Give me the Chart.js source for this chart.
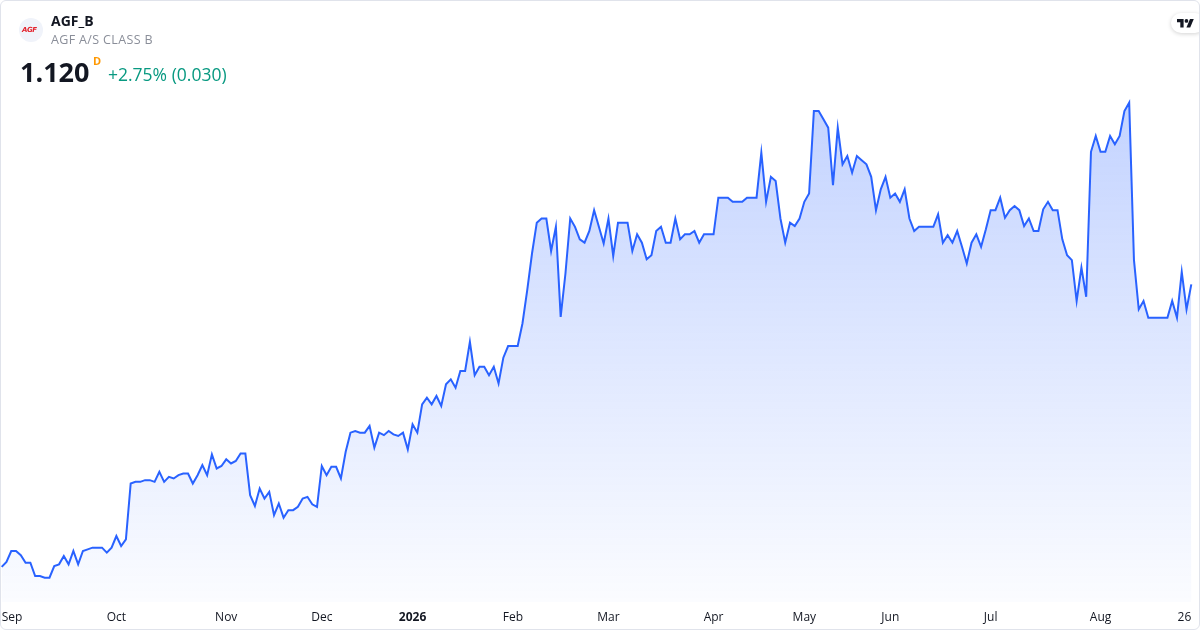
<!DOCTYPE html>
<html>
<head>
<meta charset="utf-8">
<script src="https://cdn.jsdelivr.net/npm/chart.js"></script>
<style>
  html, body { margin: 0; padding: 0; background: #fff; }
  #wrap { position: relative; width: 1200px; height: 630px; overflow: hidden; font-family: "Open Sans", sans-serif; }
  #frame { position: absolute; left: 0; top: 0; width: 1200px; height: 630px; box-sizing: border-box; border: 1px solid #e0e3eb; border-radius: 6px; pointer-events: none; }
  .abs { position: absolute; white-space: nowrap; line-height: 1; }
  #logo { position: absolute; left: 19px; top: 18px; width: 24px; height: 24px; border-radius: 50%; background: #f0f3fa; }
  #logo span { position: absolute; left: 3px; top: 8px; font: italic bold 7px "DejaVu Sans", sans-serif; color: #e3212b; letter-spacing: -0.4px; }
  #tv { position: absolute; left: 1171px; top: 13px; width: 34px; height: 20px; border-radius: 10px; background: #fff; box-shadow: 0 1px 4px rgba(0,0,0,0.18); }
</style>
</head>
<body>
<div id="wrap">
  <canvas id="myChart" width="1200" height="630"></canvas>
  <div id="logo"><span>AGF</span></div>
  <div class="abs" style="left:51px;top:14px;font-size:14px;font-weight:700;color:#131722;">AGF_B</div>
  <div class="abs" style="left:51px;top:34px;font-size:12.5px;color:#8a8e99;letter-spacing:0.35px;">AGF A/S CLASS B</div>
  <div class="abs" style="left:20px;top:58px;font-size:27px;font-weight:700;color:#131722;">1.120</div>
  <div class="abs" style="left:93px;top:55px;font-size:11px;font-weight:700;color:#ff9800;">D</div>
  <div class="abs" style="left:108px;top:66px;font-size:17.5px;color:#089981;">+2.75% (0.030)</div>
  <div id="tv">
    <svg width="17" height="8.5" viewBox="0 4 36 18" style="position:absolute;left:6px;top:6px;">
      <path d="M14 22H7V11H0V4h14v18z" fill="#131722"/>
      <circle cx="20" cy="8" r="4" fill="#131722"/>
      <path d="M28 22h-8l7.5-18h8L28 22z" fill="#131722"/>
    </svg>
  </div>
  <div id="frame"></div>
</div>
<script>
// daily closes, AGF_B, Sep 2025 - Aug 2026
var prices = [
  0.781, 0.787, 0.800, 0.800, 0.795, 0.786, 0.786, 0.770, 0.770, 0.768,
  0.768, 0.782, 0.784, 0.794, 0.784, 0.800, 0.784, 0.800, 0.802, 0.804,
  0.804, 0.804, 0.798, 0.804, 0.818, 0.806, 0.814, 0.881, 0.883, 0.883,
  0.885, 0.885, 0.883, 0.895, 0.883, 0.889, 0.887, 0.891, 0.893, 0.893,
  0.881, 0.891, 0.903, 0.891, 0.916, 0.899, 0.902, 0.910, 0.905, 0.908,
  0.917, 0.917, 0.867, 0.854, 0.875, 0.863, 0.871, 0.843, 0.857, 0.840,
  0.849, 0.849, 0.853, 0.863, 0.865, 0.856, 0.853, 0.902, 0.891, 0.901,
  0.901, 0.887, 0.919, 0.942, 0.944, 0.942, 0.942, 0.950, 0.924, 0.942,
  0.939, 0.944, 0.940, 0.938, 0.942, 0.922, 0.952, 0.942, 0.976, 0.984,
  0.976, 0.986, 0.974, 1.000, 1.006, 0.996, 1.016, 1.016, 1.051, 1.011,
  1.021, 1.021, 1.011, 1.021, 1.001, 1.032, 1.046, 1.046, 1.046, 1.073,
  1.113, 1.157, 1.194, 1.199, 1.199, 1.160, 1.189, 1.081, 1.133, 1.199,
  1.189, 1.174, 1.170, 1.184, 1.209, 1.189, 1.169, 1.199, 1.154, 1.194,
  1.194, 1.194, 1.160, 1.180, 1.170, 1.150, 1.155, 1.184, 1.189, 1.170,
  1.170, 1.199, 1.174, 1.180, 1.180, 1.184, 1.170, 1.180, 1.180, 1.180,
  1.224, 1.224, 1.224, 1.219, 1.219, 1.219, 1.224, 1.224, 1.224, 1.278,
  1.219, 1.249, 1.244, 1.199, 1.170, 1.194, 1.190, 1.199, 1.219, 1.229,
  1.328, 1.328, 1.318, 1.308, 1.239, 1.308, 1.264, 1.274, 1.254, 1.274,
  1.269, 1.264, 1.249, 1.209, 1.234, 1.249, 1.224, 1.229, 1.219, 1.234,
  1.199, 1.184, 1.189, 1.189, 1.189, 1.189, 1.204, 1.170, 1.179, 1.170,
  1.184, 1.165, 1.145, 1.170, 1.180, 1.165, 1.186, 1.209, 1.209, 1.224,
  1.200, 1.209, 1.214, 1.209, 1.190, 1.199, 1.184, 1.184, 1.210, 1.219,
  1.209, 1.209, 1.174, 1.155, 1.149, 1.100, 1.140, 1.105, 1.279, 1.298,
  1.279, 1.279, 1.298, 1.288, 1.298, 1.328, 1.338, 1.149, 1.090, 1.100,
  1.080, 1.080, 1.080, 1.080, 1.080, 1.100, 1.080, 1.135, 1.090, 1.120
];
// where the month labels sit (bar index) and what they say
var tickPos = [0, 24, 47, 67, 86, 107, 127, 149, 168, 186, 207, 230, 249];
var tickLabels = ["Sep", "Oct", "Nov", "Dec", "2026", "Feb", "Mar", "Apr", "May", "Jun", "Jul", "Aug", "26"];

var points = prices.map(function(v, i){ return {x: i, y: v}; });

var CHART = document.getElementById("myChart");
let priceChart = new Chart(CHART, {
  type: 'line',
  data: {
    datasets: [{
      data: points,
      borderColor: '#2962FF',
      borderWidth: 2,
      pointRadius: 0,
      tension: 0,
      fill: 'start',
      backgroundColor: function(context){
        var chart = context.chart;
        if (!chart.chartArea) return 'rgba(41,98,255,0.15)';
        var top = chart.scales.y.getPixelForValue(Math.max.apply(null, prices));
        var g = chart.ctx.createLinearGradient(0, top, 0, chart.chartArea.bottom);
        g.addColorStop(0, 'rgba(41,98,255,0.28)');
        g.addColorStop(1, 'rgba(41,98,255,0.02)');
        return g;
      }
    }]
  },
  options: {
    responsive: false,
    animation: false,
    layout: { padding: 0 },
    plugins: { legend: { display: false }, tooltip: { enabled: false } },
    scales: {
      x: {
        type: 'linear',
        min: -0.356,
        max: 250.82,
        // tick marks are hidden, but their length pushes the labels down
        grid: { display: false, drawTicks: true, tickLength: 8 },
        border: { display: false },
        afterBuildTicks: function(scale){
          scale.ticks = tickPos.map(function(p){ return {value: p}; });
        },
        afterFit: function(scale){ scale.height = 28; },
        ticks: {
          autoSkip: false,
          maxRotation: 0,
          align: 'inner',
          padding: 0,
          color: '#131722',
          font: function(c){
            return { family: 'Open Sans', size: 12, weight: tickLabels[c.index] === '2026' ? 'bold' : 'normal' };
          },
          callback: function(value, index){ return tickLabels[index]; }
        }
      },
      y: {
        display: false,
        min: 0.7388,
        max: 1.4612
      }
    }
  }
});
</script>
</body>
</html>
